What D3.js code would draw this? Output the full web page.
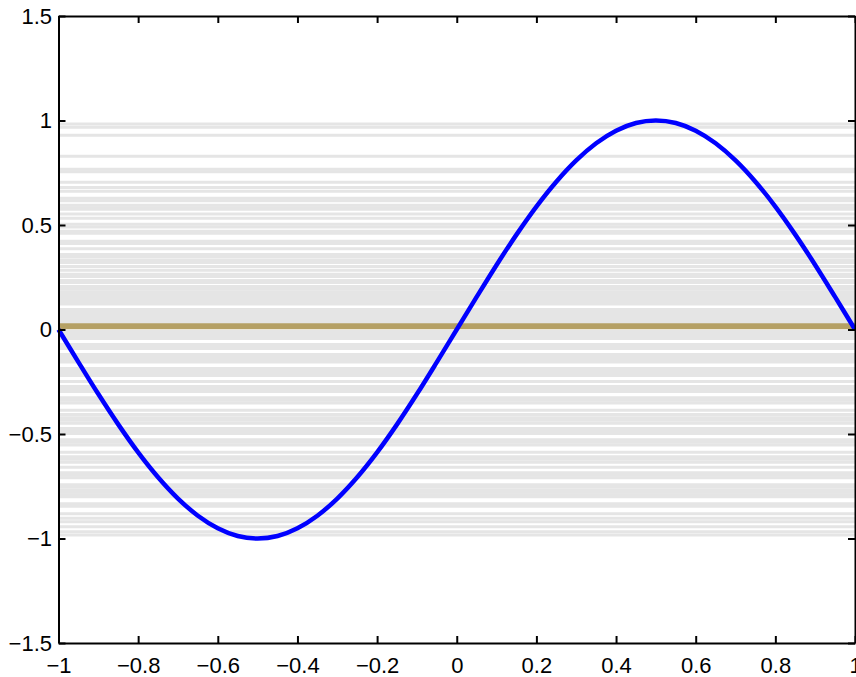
<!DOCTYPE html>
<html>
<head>
<meta charset="utf-8">
<script src="https://d3js.org/d3.v7.min.js"></script>
<style>
body{margin:0;background:#fff}
.axis text{font-family:"Liberation Sans",Arial,sans-serif;font-size:22px;fill:#000}
.axis path,.axis line{stroke:#000;stroke-width:2}
</style>
</head>
<body>
<svg width="856" height="677"></svg>
<script>
// blue curve
var curveX = [-1,-0.95,-0.9,-0.85,-0.8,-0.75,-0.7,-0.65,-0.6,-0.55,-0.5,-0.45,-0.4,-0.35,-0.3,-0.25,-0.2,-0.15,-0.1,-0.05,
              0,0.05,0.1,0.15,0.2,0.25,0.3,0.35,0.4,0.45,0.5,0.55,0.6,0.65,0.7,0.75,0.8,0.85,0.9,0.95,1];
var curveY = [0,-0.156,-0.309,-0.454,-0.588,-0.707,-0.809,-0.891,-0.951,-0.988,-1,-0.988,-0.951,-0.891,-0.809,-0.707,-0.588,-0.454,-0.309,-0.156,
              0,0.156,0.309,0.454,0.588,0.707,0.809,0.891,0.951,0.988,1,0.988,0.951,0.891,0.809,0.707,0.588,0.454,0.309,0.156,0];
// the flat tan line
var flatY = 0.016;
// light gray horizontal lines
var grayY = [0.983,0.968,0.930,0.829,0.767,0.755,0.704,0.680,0.661,0.628,0.616,0.594,0.582,0.575,0.553,0.532,0.503,0.491,
             0.470,0.460,0.422,0.412,0.386,0.359,0.347,0.331,0.321,0.302,0.283,0.264,0.254,0.235,0.225,0.206,
             0.192,0.180,0.168,0.156,0.144,0.132,0.122,0.096,0.084,0.072,0.060,0.048,0.038,0.024,0.010,
             -0.010,-0.022,-0.034,-0.043,-0.072,-0.084,-0.091,-0.120,-0.132,-0.144,-0.156,-0.187,-0.199,-0.211,-0.220,
             -0.249,-0.273,-0.285,-0.297,-0.326,-0.338,-0.352,-0.386,-0.407,-0.422,-0.434,-0.448,-0.474,-0.486,-0.498,
             -0.527,-0.539,-0.553,-0.587,-0.609,-0.621,-0.635,-0.659,-0.685,-0.697,-0.709,-0.743,-0.752,-0.767,-0.779,
             -0.791,-0.800,-0.834,-0.846,-0.882,-0.903,-0.920,-0.944,-0.968,-0.983];
var xTicks = [-1,-0.8,-0.6,-0.4,-0.2,0,0.2,0.4,0.6,0.8,1];
var yTicks = [-1.5,-1,-0.5,0,0.5,1,1.5];

var svg = d3.select("svg");
var padL = 58.5, padR = 855, padT = 16, padB = 643;

var x = d3.scaleLinear().domain([-1,1]).range([padL,padR]),
    y = d3.scaleLinear().domain([-1.5,1.5]).range([padB,padT]);

svg.append("g")
   .selectAll("line")
   .data(grayY)
   .enter()
   .append("line")
   .attr("x1",x(-1))
   .attr("x2",x(1))
   .attr("y1",d=>y(d))
   .attr("y2",d=>y(d))
   .attr("stroke","#e5e5e5")
   .attr("stroke-width",3);

svg.append("line")
   .attr("x1",x(-1)).attr("x2",x(1))
   .attr("y1",y(flatY)).attr("y2",y(flatY))
   .attr("stroke","#b5a064")
   .attr("stroke-width",6);

var pts = curveX.map((v,i)=>[v,curveY[i]]);
svg.append("path")
   .datum(pts)
   .attr("fill","none")
   .attr("stroke","#0000ff")
   .attr("stroke-width",4.5)
   .attr("d",d3.line().x(d=>x(d[0])).y(d=>y(d[1])).curve(d3.curveCardinal));

var fmt = d=>d3.format("")(d).replace("-","\u2212");

svg.append("g").attr("class","axis")
   .attr("transform",`translate(0,${padB})`)
   .call(d3.axisBottom(x).tickValues(xTicks).tickFormat(fmt).tickSizeInner(-7).tickSizeOuter(0).tickPadding(14));
svg.append("g").attr("class","axis")
   .attr("transform",`translate(0,${padT})`)
   .call(d3.axisTop(x).tickValues(xTicks).tickFormat("").tickSizeInner(-7).tickSizeOuter(0));
svg.append("g").attr("class","axis")
   .attr("transform",`translate(${padL},0)`)
   .call(d3.axisLeft(y).tickValues(yTicks).tickFormat(fmt).tickSizeInner(-7).tickSizeOuter(0).tickPadding(6.5));
svg.append("g").attr("class","axis")
   .attr("transform",`translate(${padR},0)`)
   .call(d3.axisRight(y).tickValues(yTicks).tickFormat("").tickSizeInner(-7).tickSizeOuter(0));
</script>
</body>
</html>
